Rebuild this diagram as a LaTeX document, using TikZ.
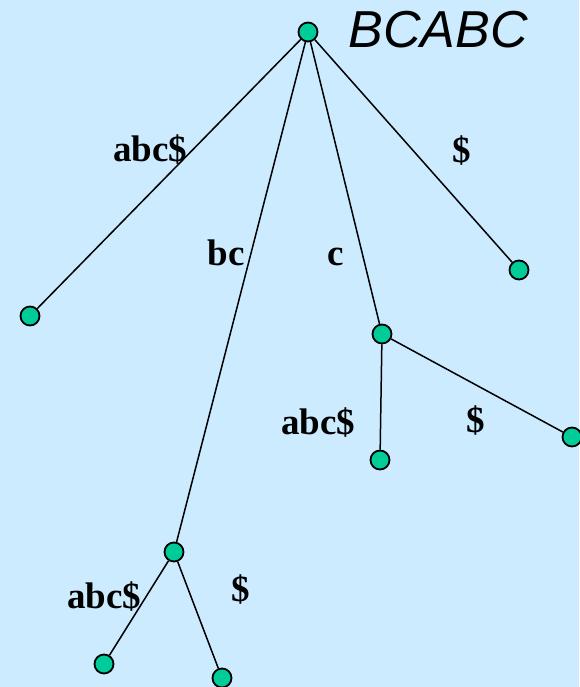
\documentclass[tikz,border=0pt]{standalone}
\usepackage{fontspec}
\setmainfont{Liberation Serif}
\setsansfont{Liberation Sans}
\usetikzlibrary{positioning}
\definecolor{skyback}{HTML}{CCEBFF}
\definecolor{nodegreen}{HTML}{00CC99}
\tikzset{
  vertex/.style={circle, draw=black, fill=nodegreen, line width=1.8pt, minimum size=19pt, inner sep=0pt},
  branch/.style={draw=black, line width=1.5pt},
  edgelabel/.style={anchor=base, inner sep=0pt, font=\fontsize{37}{40}\selectfont\bfseries},
  wordlabel/.style={anchor=base, inner sep=0pt, font=\fontsize{52}{56}\selectfont\sffamily\itshape}
}
\begin{document}
\begin{tikzpicture}[x=1pt, y=-1pt]
    \fill[skyback] (0,0) rectangle (579,687);
    \useasboundingbox (0,0) rectangle (579,687);

    \node[vertex] (root) at (308,32) {};
    \node[vertex] (leafA) at (30,316) {};
    \node[vertex] (bcn) at (174,552) {};
    \node[vertex] (cn) at (382,334) {};
    \node[vertex] (leafD) at (519,270) {};
    \node[vertex] (cleafA) at (380,460) {};
    \node[vertex] (cleafD) at (572,437) {};
    \node[vertex] (bcleafA) at (104,664) {};
    \node[vertex] (bcleafD) at (222,678) {};

    \draw[branch] (root) -- (leafA);
    \draw[branch] (root) -- (bcn);
    \draw[branch] (root) -- (cn);
    \draw[branch] (root) -- (leafD);
    \draw[branch] (cn) -- (cleafA);
    \draw[branch] (cn) -- (cleafD);
    \draw[branch] (bcn) -- (bcleafA);
    \draw[branch] (bcn) -- (bcleafD);

    \node[edgelabel] (lA) at (150,161) {abc\$};
    \node[edgelabel] (lbc) at (226,265) {bc};
    \node[edgelabel] (lc) at (336,265) {c};
    \node[edgelabel] (lD) at (462,162) {\$};
    \node[edgelabel] (lcA) at (318,434) {abc\$};
    \node[edgelabel] (lcD) at (476,432) {\$};
    \node[edgelabel] (lbcA) at (104,608) {abc\$};
    \node[edgelabel] (lbcD) at (241,601) {\$};

    \node[wordlabel] (word) at (438,48) {BCABC};
  \end{tikzpicture}
\end{document}
